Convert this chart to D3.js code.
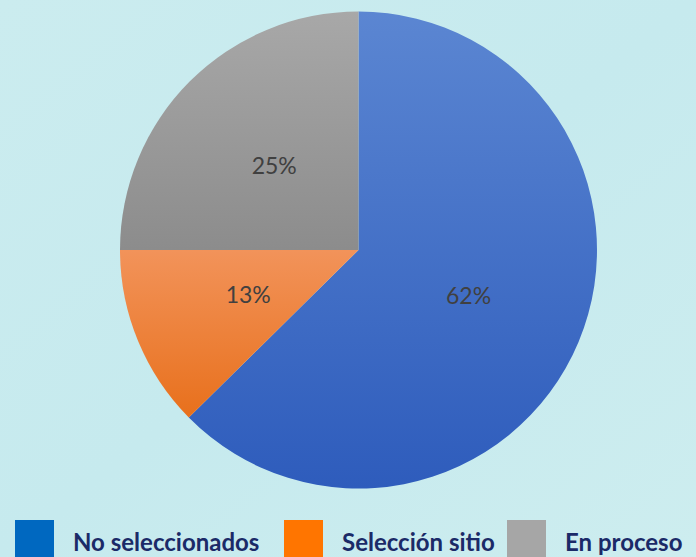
<!DOCTYPE html>
<html>
<head>
<meta charset="utf-8">
<script src="https://cdn.jsdelivr.net/npm/d3@7"></script>
<style>
  body { margin: 0; }
  svg { display: block; }
</style>
</head>
<body>
<div id="chart"><svg width="696" height="557"></svg></div>
<script>
const categories = ['No seleccionados', 'Selección sitio', 'En proceso']
const values = [62.6, 12.4, 25]
const valueLabels = ['62%', '13%', '25%']
const legendColors = ['#0068c0', '#ff7500', '#a6a6a6']
const sliceTop = ['#5b86d2', '#f2935a', '#a8a8a8']
const sliceBottom = ['#2e5cbc', '#e8701c', '#8c8c8c']

const svg = d3.select('#chart svg')
const svgW = 696
const svgH = 557

const defs = svg.append('defs')

// background
const bg = defs.append('linearGradient')
    .attr('id', 'bg')
    .attr('x1', 0).attr('y1', 0).attr('x2', 1).attr('y2', 1)
bg.append('stop').attr('offset', 0).attr('stop-color', '#cbecef')
bg.append('stop').attr('offset', 0.5).attr('stop-color', '#c6eaee')
bg.append('stop').attr('offset', 1).attr('stop-color', '#cdedef')

svg.append('rect')
    .attr('width', svgW)
    .attr('height', svgH)
    .attr('fill', 'url(#bg)')

categories.forEach((c, i) => {
    const g = defs.append('linearGradient')
        .attr('id', 'grad' + i)
        .attr('x1', 0).attr('y1', 0).attr('x2', 0).attr('y2', 1)
    g.append('stop').attr('offset', 0).attr('stop-color', sliceTop[i])
    g.append('stop').attr('offset', 1).attr('stop-color', sliceBottom[i])
})

const cx = 358.5
const cy = 250
const radius = 238.5

const pie = d3.pie().sort(null).value(d => d)
const arc = d3.arc().innerRadius(0).outerRadius(radius)

const pieG = svg.append('g').attr('transform', `translate(${cx},${cy})`)

const arcs = pie(values)

pieG.selectAll('path')
    .data(arcs)
    .join('path')
    .attr('d', arc)
    .attr('fill', (d, i) => `url(#grad${i})`)

pieG.selectAll('text')
    .data(arcs)
    .join('text')
    .attr('x', d => arc.centroid(d)[0])
    .attr('y', d => arc.centroid(d)[1])
    .attr('dy', '0.35em')
    .text((d, i) => valueLabels[i])
    .style('text-anchor', 'middle')
    .style('font-family', 'Lato, "Open Sans", sans-serif')
    .style('font-size', 23)
    .style('fill', '#404040')

// legend
const legendX = [15, 284, 507]
const legend = svg.append('g')
    .selectAll('g')
    .data(categories)
    .join('g')
    .attr('transform', (d, i) => `translate(${legendX[i]},520)`)

legend.append('rect')
    .attr('width', 39)
    .attr('height', 40)
    .attr('fill', (d, i) => legendColors[i])

legend.append('text')
    .attr('x', 58)
    .attr('y', 31)
    .text(d => d)
    .style('font-family', 'Lato, "Open Sans", sans-serif')
    .style('font-weight', 'bold')
    .style('font-size', 24)
    .style('fill', '#1b2a68')
</script>
</body>
</html>
